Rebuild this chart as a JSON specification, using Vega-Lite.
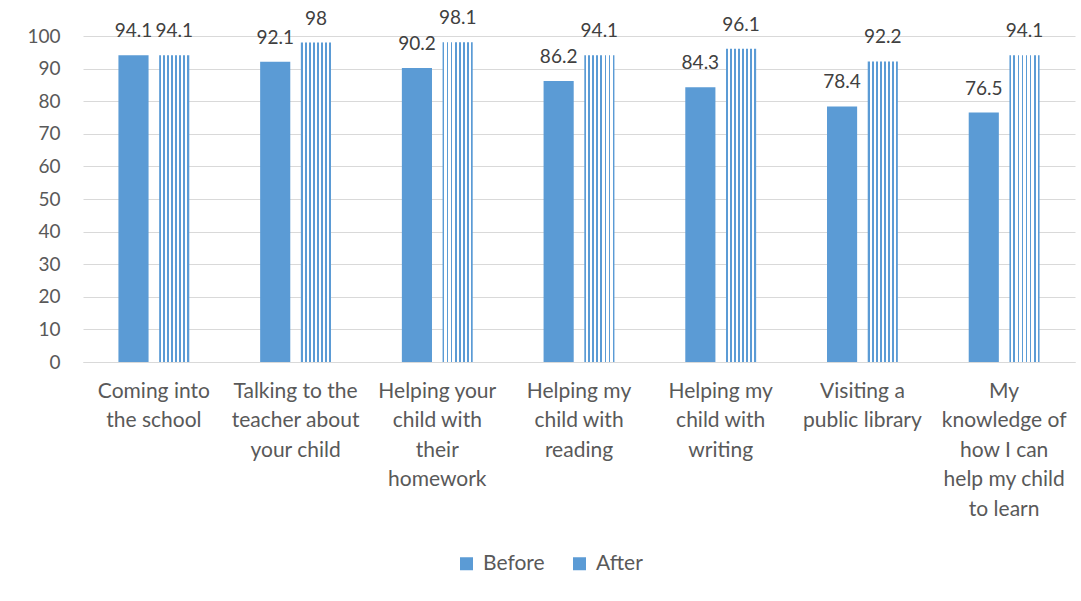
{
  "$schema": "https://vega.github.io/schema/vega-lite/v6.json",
  "autosize": {"type": "none"},
  "width": 992,
  "height": 326,
  "padding": {"left": 83, "top": 36, "right": 6, "bottom": 239},
  "background": "white",
  "data": {
    "values": [
      {"activity": "Coming into|the school", "period": "Before", "pct": 94.1},
      {"activity": "Coming into|the school", "period": "After", "pct": 94.1},
      {"activity": "Talking to the|teacher about|your child", "period": "Before", "pct": 92.1},
      {"activity": "Talking to the|teacher about|your child", "period": "After", "pct": 98},
      {"activity": "Helping your|child with|their|homework", "period": "Before", "pct": 90.2},
      {"activity": "Helping your|child with|their|homework", "period": "After", "pct": 98.1},
      {"activity": "Helping my|child with|reading", "period": "Before", "pct": 86.2},
      {"activity": "Helping my|child with|reading", "period": "After", "pct": 94.1},
      {"activity": "Helping my|child with|writing", "period": "Before", "pct": 84.3},
      {"activity": "Helping my|child with|writing", "period": "After", "pct": 96.1},
      {"activity": "Visiting a|public library", "period": "Before", "pct": 78.4},
      {"activity": "Visiting a|public library", "period": "After", "pct": 92.2},
      {"activity": "My|knowledge of|how I can|help my child|to learn", "period": "Before", "pct": 76.5},
      {"activity": "My|knowledge of|how I can|help my child|to learn", "period": "After", "pct": 94.1}
    ]
  },
  "encoding": {
    "x": {
      "field": "activity",
      "type": "nominal",
      "sort": null,
      "scale": {"paddingInner": 0.5, "paddingOuter": 0.25},
      "axis": {
        "title": null,
        "labelAngle": 0,
        "labelExpr": "split(datum.label, '|')",
        "labelFont": "Lato",
        "labelFontSize": 21,
        "labelColor": "#595959",
        "labelLineHeight": 29.5,
        "labelPadding": 18,
        "labelBaseline": "top",
        "ticks": false,
        "domainColor": "#d9d9d9",
        "domainWidth": 1
      }
    },
    "xOffset": {
      "field": "period",
      "type": "nominal",
      "sort": ["Before", "After"],
      "scale": {"paddingInner": 0.26, "paddingOuter": 0}
    },
    "y": {
      "field": "pct",
      "type": "quantitative",
      "scale": {"domain": [0, 100], "nice": false},
      "axis": {
        "title": null,
        "values": [0, 10, 20, 30, 40, 50, 60, 70, 80, 90, 100],
        "domain": false,
        "ticks": false,
        "gridColor": "#d9d9d9",
        "gridWidth": 1,
        "labelFont": "Lato",
        "labelFontSize": 19,
        "labelColor": "#595959",
        "labelPadding": 23
      }
    }
  },
  "layer": [
    {
      "mark": {"type": "bar"},
      "encoding": {
        "fill": {
          "condition": {
            "test": "datum.period === 'After'",
            "value": {
              "gradient": "linear",
              "x1": 0, "y1": 0, "x2": 1, "y2": 0,
              "stops": [
                {"offset": 0, "color": "#5B9BD5"},
                {"offset": 0.06, "color": "#5B9BD5"},
                {"offset": 0.06, "color": "#ffffff"},
                {"offset": 0.134, "color": "#ffffff"},
                {"offset": 0.134, "color": "#5B9BD5"},
                {"offset": 0.194, "color": "#5B9BD5"},
                {"offset": 0.194, "color": "#ffffff"},
                {"offset": 0.269, "color": "#ffffff"},
                {"offset": 0.269, "color": "#5B9BD5"},
                {"offset": 0.329, "color": "#5B9BD5"},
                {"offset": 0.329, "color": "#ffffff"},
                {"offset": 0.403, "color": "#ffffff"},
                {"offset": 0.403, "color": "#5B9BD5"},
                {"offset": 0.463, "color": "#5B9BD5"},
                {"offset": 0.463, "color": "#ffffff"},
                {"offset": 0.537, "color": "#ffffff"},
                {"offset": 0.537, "color": "#5B9BD5"},
                {"offset": 0.597, "color": "#5B9BD5"},
                {"offset": 0.597, "color": "#ffffff"},
                {"offset": 0.671, "color": "#ffffff"},
                {"offset": 0.671, "color": "#5B9BD5"},
                {"offset": 0.731, "color": "#5B9BD5"},
                {"offset": 0.731, "color": "#ffffff"},
                {"offset": 0.806, "color": "#ffffff"},
                {"offset": 0.806, "color": "#5B9BD5"},
                {"offset": 0.866, "color": "#5B9BD5"},
                {"offset": 0.866, "color": "#ffffff"},
                {"offset": 0.94, "color": "#ffffff"},
                {"offset": 0.94, "color": "#5B9BD5"},
                {"offset": 1, "color": "#5B9BD5"}
              ]
            }
          },
          "field": "period",
          "type": "nominal",
          "sort": ["Before", "After"],
          "scale": {"domain": ["Before", "After"], "range": ["#5B9BD5", "#5B9BD5"]},
          "legend": {
            "title": null,
            "orient": "none",
            "legendX": 373,
            "legendY": 517,
            "direction": "horizontal",
            "symbolType": "square",
            "symbolSize": 169,
            "symbolStrokeWidth": 0,
            "labelFont": "Lato",
            "labelFontSize": 21,
            "labelColor": "#595959",
            "labelOffset": 6,
            "columnPadding": 24
          }
        }
      }
    },
    {
      "mark": {
        "type": "text",
        "baseline": "bottom",
        "dy": -14,
        "font": "Lato",
        "fontSize": 19,
        "color": "#404040"
      },
      "encoding": {
        "text": {"field": "pct", "type": "quantitative"}
      }
    }
  ],
  "config": {
    "view": {"stroke": null}
  }
}
